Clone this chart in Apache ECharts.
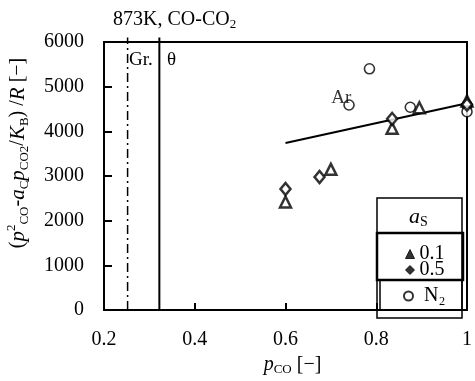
<!DOCTYPE html>
<html>
<head>
<meta charset="utf-8">
<script src="https://cdn.jsdelivr.net/npm/echarts@6/dist/echarts.min.js"></script>
<style>
  html, body { margin: 0; padding: 0; background: #fff; }
  #chart { width: 475px; height: 381px; }
</style>
</head>
<body>
<div id="chart"></div>
<script>
// Axis ranges / ticks
const xMin = 0.2, xMax = 1.0, xStep = 0.2;
const yMin = 0, yMax = 6000, yStep = 1000;

// Measured (p_CO, value) pairs
const tri01 = [[0.6, 2420], [0.7, 3150], [0.835, 4070], [0.895, 4530], [1.0, 4680]];   // a_S = 0.1
const dia05 = [[0.6, 2710], [0.675, 2980], [0.835, 4280], [1.0, 4600]];                // a_S = 0.5
const n2Pts = [[0.785, 5400], [0.875, 4540], [1.0, 4580], [1.0, 4440]];                // N2
const arPts = [[0.74, 4590]];                                                          // Ar

// Regression line and phase boundaries
const fitLine = [[0.6, 3740], [1.0, 4630]];
const grBoundary = [[0.252, 0], [0.252, 6100]];
const thetaBoundary = [[0.322, 0], [0.322, 6100]];

const SERIF = '"Liberation Serif", "DejaVu Serif", serif';

const chart = echarts.init(document.getElementById('chart'), null, { renderer: 'canvas' });

const markerStyle = { color: '#fff', borderColor: '#000', borderWidth: 2.5 };

chart.setOption({
  animation: false,
  backgroundColor: '#fff',
  textStyle: { fontFamily: SERIF, color: '#000' },
  grid: {
    left: 104, right: 4, top: 42, bottom: 63,
    show: true, borderColor: '#000', borderWidth: 2, backgroundColor: 'transparent'
  },
  xAxis: {
    type: 'value', min: xMin, max: xMax, interval: xStep,
    axisLine: { lineStyle: { color: '#000', width: 2 } },
    axisTick: { inside: true, length: 7, lineStyle: { color: '#000', width: 2 } },
    splitLine: { show: false },
    axisLabel: {
      margin: 20, fontFamily: SERIF, fontSize: 20, color: '#000',
      formatter: v => (Math.abs(v - 1) < 1e-9 ? '1' : v.toFixed(1))
    },
    name: '{i|p}{s|CO}{n| [\u2212]}',
    nameLocation: 'middle', nameGap: 40,
    nameTextStyle: {
      padding: [0, 0, 0, 14],
      rich: {
        i: { fontFamily: SERIF, fontStyle: 'italic', fontSize: 20, color: '#000', lineHeight: 22 },
        s: { fontFamily: SERIF, fontSize: 13, color: '#000', verticalAlign: 'bottom', lineHeight: 22 },
        n: { fontFamily: SERIF, fontSize: 20, color: '#000', lineHeight: 22 }
      }
    }
  },
  yAxis: {
    type: 'value', min: yMin, max: yMax, interval: yStep,
    axisLine: { lineStyle: { color: '#000', width: 2 } },
    axisTick: { inside: true, length: 8, lineStyle: { color: '#000', width: 2 } },
    splitLine: { show: false },
    axisLabel: { margin: 20, fontFamily: SERIF, fontSize: 20, color: '#000', formatter: v => String(v) }
  },
  legend: [
    {
      orient: 'vertical', left: 400, top: 239, itemWidth: 9, itemHeight: 9, itemGap: -4,
      selectedMode: false,
      textStyle: { fontFamily: SERIF, fontSize: 20, color: '#000' },
      data: [
        { name: '0.1', icon: 'triangle', itemStyle: { color: '#000', borderColor: '#000', borderWidth: 1 } },
        { name: '0.5', icon: 'diamond', itemStyle: { color: '#000', borderColor: '#000', borderWidth: 1 } }
      ]
    },
    {
      orient: 'vertical', left: 398, top: 281, itemWidth: 9, itemHeight: 9,
      selectedMode: false,
      textStyle: { fontFamily: SERIF, fontSize: 20, color: '#000', padding: [0, 0, 0, 6] },
      data: [{ name: 'N\u2082', icon: 'circle' }]
    }
  ],
  graphic: [
    // title
    {
      type: 'text', left: 113, top: 10, silent: true,
      style: {
        text: '{n|873K, CO-CO}{s|2}',
        rich: {
          n: { fontFamily: SERIF, fontSize: 20, fill: '#000', lineHeight: 22 },
          s: { fontFamily: SERIF, fontSize: 13, fill: '#000', verticalAlign: 'bottom', lineHeight: 22 }
        }
      }
    },
    // region labels
    { type: 'text', left: 129, top: 51, silent: true,
      style: { text: 'Gr.', fontFamily: SERIF, fontSize: 19, fill: '#000' } },
    { type: 'text', left: 167, top: 51, silent: true,
      style: { text: '\u03b8', fontFamily: SERIF, fontSize: 19, fill: '#000' } },
    // y axis title
    {
      type: 'text', x: 18, y: 153, rotation: Math.PI / 2, silent: true,
      style: {
        text: '{n|(}{i|p}{u|2}{s|CO}{n|-}{i|a}{s|C}{i|p}{s|CO2}{n|/}{i|K}{s|B}{n|) /}{i|R}{n| [\u2212]}',
        align: 'center', verticalAlign: 'middle',
        rich: {
          n: { fontFamily: SERIF, fontSize: 20, fill: '#000', lineHeight: 26 },
          i: { fontFamily: SERIF, fontStyle: 'italic', fontSize: 21, fill: '#000', lineHeight: 26 },
          s: { fontFamily: SERIF, fontSize: 13, fill: '#000', verticalAlign: 'bottom', lineHeight: 26 },
          u: { fontFamily: SERIF, fontSize: 13, fill: '#000', verticalAlign: 'top', lineHeight: 26 }
        }
      }
    },
    // legend frame
    { type: 'rect', silent: true, shape: { x: 377, y: 198, width: 85, height: 120 },
      style: { fill: '#fff', stroke: '#000', lineWidth: 1.5 }, z: 0 },
    { type: 'rect', silent: true, shape: { x: 377, y: 233, width: 86, height: 47 },
      style: { fill: 'none', stroke: '#000', lineWidth: 2.5 }, z: 1 },
    { type: 'rect', silent: true, shape: { x: 380, y: 280, width: 82, height: 30 },
      style: { fill: 'none', stroke: '#000', lineWidth: 1.5 }, z: 1 },
    {
      type: 'text', left: 409, top: 206, silent: true, z: 2,
      style: {
        text: '{i|a}{s|S}',
        rich: {
          i: { fontFamily: SERIF, fontStyle: 'italic', fontSize: 22, fill: '#000', lineHeight: 24 },
          s: { fontFamily: SERIF, fontSize: 14, fill: '#000', verticalAlign: 'bottom', lineHeight: 22 }
        }
      }
    }
  ],
  series: [
    {
      type: 'line', data: grBoundary, symbol: 'none', clip: false, silent: true,
      lineStyle: { color: '#000', width: 1.5, type: [9, 4, 2, 4] }
    },
    {
      type: 'line', data: thetaBoundary, symbol: 'none', clip: false, silent: true,
      lineStyle: { color: '#000', width: 2 }
    },
    {
      type: 'line', data: fitLine, symbol: 'none', silent: true,
      lineStyle: { color: '#000', width: 2 }
    },
    {
      name: '0.1', type: 'scatter', data: tri01, symbol: 'triangle', symbolSize: 11, clip: false,
      itemStyle: markerStyle, z: 4
    },
    {
      name: '0.5', type: 'scatter', data: dia05, symbol: 'diamond', symbolSize: [10, 12], clip: false,
      itemStyle: markerStyle, z: 4
    },
    {
      name: 'N\u2082', type: 'scatter', data: n2Pts, symbol: 'circle', symbolSize: 10, clip: false,
      itemStyle: { color: '#fff', borderColor: '#000', borderWidth: 1.6 }, z: 3
    },
    {
      name: 'Ar', type: 'scatter', data: arPts, symbol: 'circle', symbolSize: 10, clip: false,
      itemStyle: { color: '#fff', borderColor: '#000', borderWidth: 1.6 }, z: 3,
      label: {
        show: true, position: 'left', distance: 0, offset: [8, -7],
        formatter: 'Ar', fontFamily: SERIF, fontSize: 19, color: '#000'
      }
    }
  ]
});
</script>
</body>
</html>
